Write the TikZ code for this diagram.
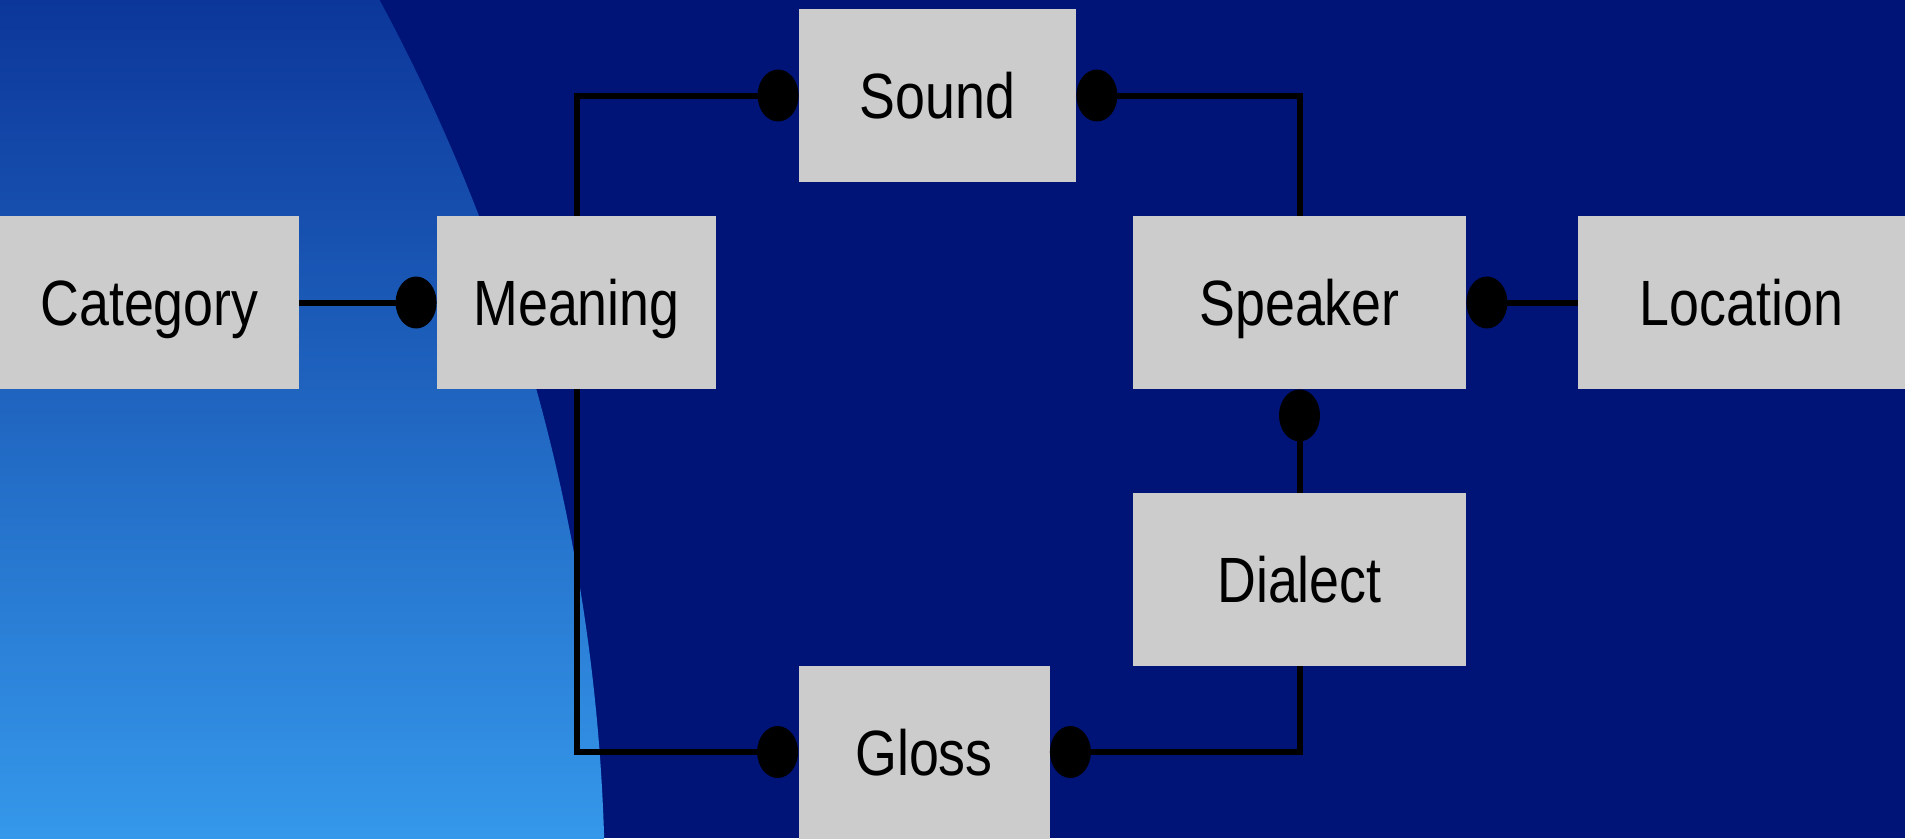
\documentclass[tikz,border=0pt]{standalone}
\usepackage{fontspec}
\setmainfont{Liberation Sans}
\usetikzlibrary{shapes.geometric}

\definecolor{navy}{RGB}{0,20,120}
\definecolor{glowtop}{RGB}{12,54,154}
\definecolor{glowmid}{RGB}{33,108,202}
\definecolor{glowbot}{RGB}{53,152,234}
\definecolor{boxgrey}{RGB}{204,204,204}

\pgfdeclarelayer{backdrop}
\pgfdeclarelayer{links}
\pgfsetlayers{backdrop,links,main}

\tikzset{
  entity/.style={rectangle, fill=boxgrey, draw=none, inner sep=0pt,
    minimum height=173pt, text height=46pt, text depth=0pt,
    font=\fontsize{64}{70}\selectfont},
  knob/.style={ellipse, fill=black, draw=none, inner sep=0pt,
    minimum width=41pt, minimum height=52pt},
  link/.style={draw=black, line width=6pt, line cap=rect}
}
\newcommand{\lbl}[1]{\scalebox{0.84}[1]{#1}}

\begin{document}
\begin{tikzpicture}[x=1pt, y=-1pt]
  % backdrop: navy field with a shaded arc on the left
  \begin{pgfonlayer}{backdrop}
    \fill[navy] (0,0) rectangle (1905,838);
    \begin{scope}
      \clip (0,0) rectangle (1905,838);
      \clip (-1284,895.7) circle [radius=1889pt];
      \shade[top color=glowtop, middle color=glowmid, bottom color=glowbot]
        (0,0) rectangle (700,838);
    \end{scope}
  \end{pgfonlayer}
  \useasboundingbox (0,0) rectangle (1905,838);

  % entities
  \node[entity, minimum width=299pt] (category) at (149.5,302.5) {\lbl{Category}};
  \node[entity, minimum width=279pt] (meaning)  at (576.5,302.5) {\lbl{Meaning}};
  \node[entity, minimum width=277pt] (sound)    at (937.5,95.5)  {\lbl{Sound}};
  \node[entity, minimum width=333pt] (speaker)  at (1299.5,302.5) {\lbl{Speaker}};
  \node[entity, minimum width=327pt] (location) at (1741.5,302.5) {\lbl{Location}};
  \node[entity, minimum width=333pt] (dialect)  at (1299.5,579.5) {\lbl{Dialect}};
  \node[entity, minimum width=251pt] (gloss)    at (924,752)     {\lbl{Gloss}};

  % knobs at the many ends of each relation
  \node[knob, anchor=east]  (kcat)   at (meaning.west)  {};
  \node[knob, anchor=east]  (ksndl)  at (sound.west)    {};
  \node[knob, anchor=west]  (ksndr)  at (sound.east)    {};
  \node[knob, anchor=west]  (kloc)   at (speaker.east)  {};
  \node[knob, anchor=north] (kdia)   at (speaker.south) {};
  \node[knob, anchor=east]  (kglol)  at (gloss.west)    {};
  \node[knob, anchor=west]  (kglor)  at (gloss.east)    {};

  % relations, kept beneath the boxes
  \begin{pgfonlayer}{links}
    \draw[link] (category.east) -- (kcat.center);
    \draw[link] (meaning.north) |- (ksndl.center);
    \draw[link] (ksndr.center) -| (speaker.north);
    \draw[link] (kloc.center) -- (location.west);
    \draw[link] (kdia.center) -- (dialect.north);
    \draw[link] (meaning.south) |- (kglol.center);
    \draw[link] (kglor.center) -| (dialect.south);
  \end{pgfonlayer}
\end{tikzpicture}
\end{document}
